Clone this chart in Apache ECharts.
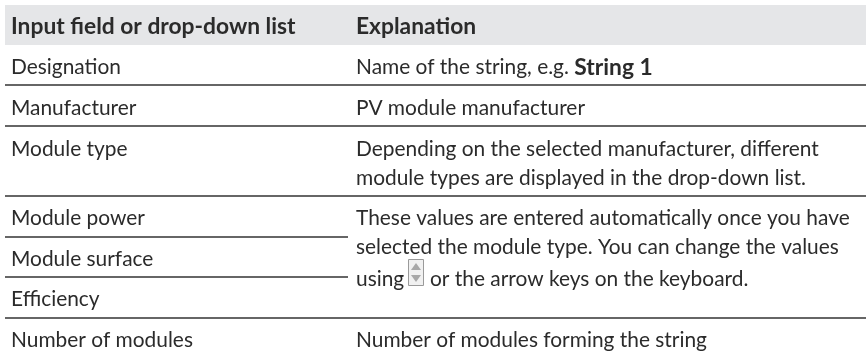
<!DOCTYPE html>
<html>
<head>
<meta charset="utf-8">
<style>html,body{margin:0;padding:0;background:#fff}#main{width:866px;height:355px}</style>
<script src="https://cdn.jsdelivr.net/npm/echarts@6/dist/echarts.min.js"></script>
</head>
<body>
<div id="main"></div>
<script>
var headers = ['Input field or drop-down list', 'Explanation'];
var fields = ['Designation', 'Manufacturer', 'Module type', 'Module power', 'Module surface', 'Efficiency', 'Number of modules'];
var explanations = [
  'Name of the string, e.g. {b|String 1}',
  'PV module manufacturer',
  'Depending on the selected manufacturer, different',
  'module types are displayed in the drop-down list.',
  'These values are entered automatically once you have',
  'selected the module type. You can change the values',
  'using',
  'or the arrow keys on the keyboard.',
  'Number of modules forming the string'
];

var FONT = 'Lato';
var INK = '#2b2b2b';
var SIZE = 20.9, BOLD_SIZE = 22.8;
var leftX = 11, rightX = 356;
var fieldY = [73, 114, 155, 224, 265, 305, 346];
var explY = [73, 114, 155, 184, 224, 253, 285, 285, 346];
var explX = [356, 356, 356, 356, 356, 356, 356, 430, 356];
// [y, x end]
var rules = [[85, 866], [126, 866], [196, 866], [237, 348], [277, 348], [318, 866]];

function label(str, x, base, bold) {
  var size = bold ? BOLD_SIZE : SIZE;
  return {
    type: 'text', x: x, y: base - size * 0.27, silent: true,
    style: {
      text: str, fill: INK,
      font: (bold ? 'bold ' : '') + size + 'px ' + FONT,
      verticalAlign: 'middle',
      rich: { b: { fontFamily: FONT, fontWeight: 'bold', fontSize: BOLD_SIZE, fill: INK } }
    }
  };
}

var els = [];
els.push({ type: 'rect', shape: { x: 5, y: 5, width: 861, height: 40 }, style: { fill: '#e5e6e8' } });
els.push(label(headers[0], leftX, 33, true));
els.push(label(headers[1], rightX, 33, true));
rules.forEach(function (r) {
  els.push({ type: 'line', shape: { x1: 5, y1: r[0], x2: r[1], y2: r[0] }, style: { stroke: '#333', lineWidth: 1.5 } });
});
fields.forEach(function (t, i) { els.push(label(t, leftX, fieldY[i])); });
explanations.forEach(function (t, i) { els.push(label(t, explX[i], explY[i])); });

// spinner button
els.push({ type: 'rect', shape: { x: 408.5, y: 259.5, width: 15, height: 26 }, style: { fill: '#f1f1f1', stroke: '#9a9a9a', lineWidth: 1 } });
els.push({ type: 'polygon', shape: { points: [[416, 263], [411, 270], [421, 270]] }, style: { fill: '#a8a8a8' } });
els.push({ type: 'polygon', shape: { points: [[416, 282], [411, 275], [421, 275]] }, style: { fill: '#a8a8a8' } });

var myCharts = echarts.init(document.getElementById('main'));
myCharts.setOption({ animation: false, graphic: { elements: els } });
</script>
</body>
</html>
